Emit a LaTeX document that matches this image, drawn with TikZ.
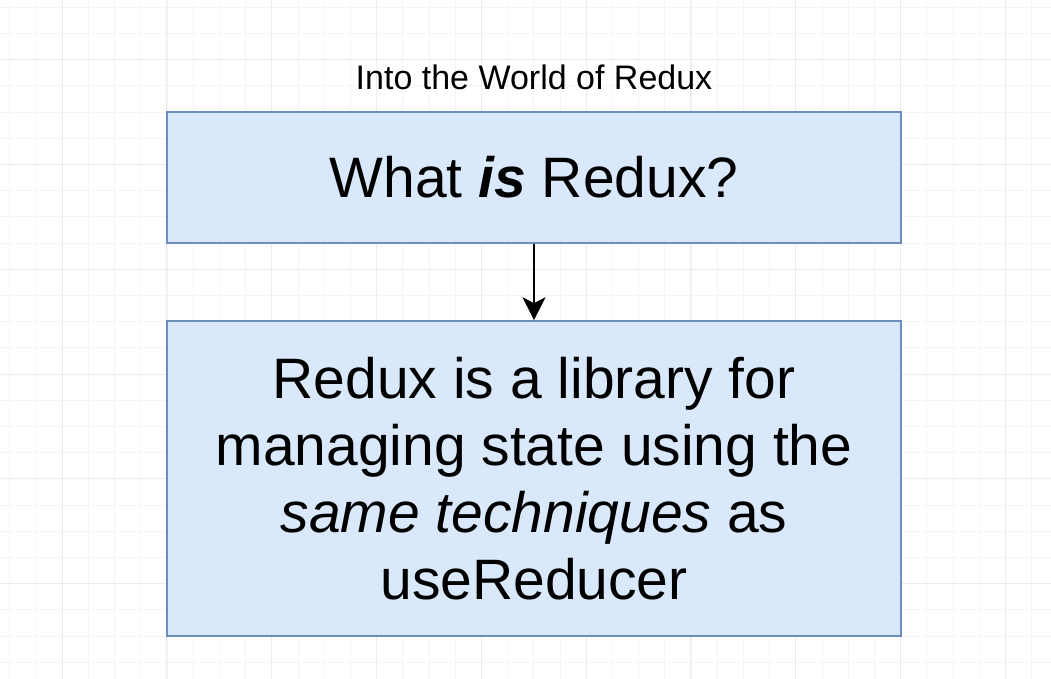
\documentclass[tikz,border=0pt]{standalone}
\usepackage{fontspec}
\setmainfont{Liberation Sans}
\usetikzlibrary{arrows.meta}
\definecolor{boxfill}{HTML}{DAE8FC}
\definecolor{boxdraw}{HTML}{6C8EBF}
\definecolor{gridminor}{HTML}{F5F5F5}
\definecolor{gridmajor}{HTML}{EBEBEB}
\tikzset{
  box/.style={draw=boxdraw, fill=boxfill, line width=1.6pt, minimum width=734pt, inner sep=0pt, align=center, font=\fontsize{57}{67}\selectfont},
  conn/.style={line width=1.8pt, -{Stealth[length=23pt, width=23pt, inset=6pt]}},
}
\begin{document}
\begin{tikzpicture}[x=1pt, y=-1pt]
\useasboundingbox (0,0) rectangle (1051,679);
\fill[white] (0,0) rectangle (1051,679);
% grid
\foreach \i in {0,...,40} {
  \pgfmathsetmacro{\xx}{9.8+\i*26.2}
  \draw[gridminor, line width=0.8pt] (\xx,0) -- (\xx,679);
}
\foreach \i in {0,...,25} {
  \pgfmathsetmacro{\yy}{7.2+\i*26.2}
  \draw[gridminor, line width=0.8pt] (0,\yy) -- (1051,\yy);
}
\foreach \i in {0,...,9} {
  \pgfmathsetmacro{\xx}{62+\i*104.8}
  \draw[gridmajor, line width=0.9pt] (\xx,0) -- (\xx,679);
}
\foreach \i in {0,...,6} {
  \pgfmathsetmacro{\yy}{59.6+\i*104.8}
  \draw[gridmajor, line width=0.9pt] (0,\yy) -- (1051,\yy);
}
% content
\node[font=\fontsize{34}{40}\selectfont] (title) at (534,77) {Into the World of Redux};
\node[box, minimum height=131pt] (q) at (534,177.5) {What \textbf{\textit{is}} Redux?};
\node[box, minimum height=315pt] (a) at (534,478.5) {Redux is a library for\\ managing state using the\\ \textit{same techniques} as\\ useReducer};
\draw[conn] (q) -- (a);
\end{tikzpicture}
\end{document}
